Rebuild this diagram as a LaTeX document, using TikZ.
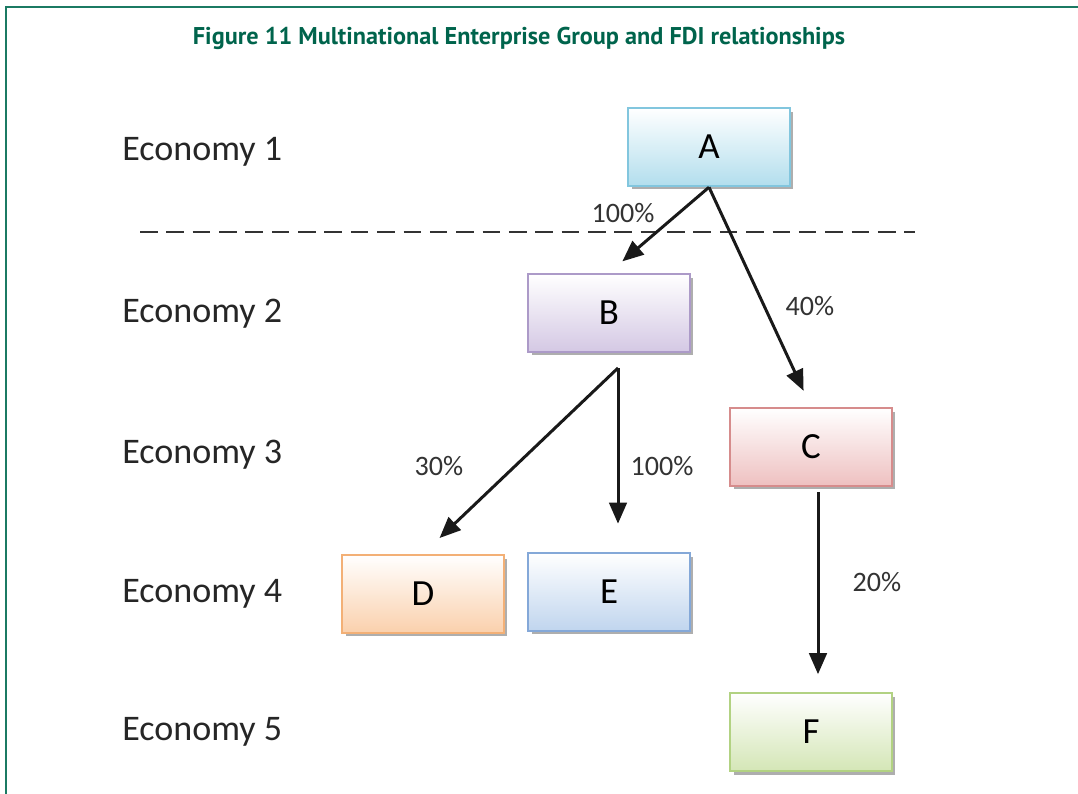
\documentclass[tikz,border=0pt]{standalone}
\usepackage{fontspec}
\setmainfont{Carlito}
\newfontfamily\titlefont{PT Sans}
\usetikzlibrary{arrows.meta,shadows}

\definecolor{framegreen}{RGB}{27,122,99}
\definecolor{titlegreen}{RGB}{0,100,76}
\definecolor{lineA}{RGB}{130,198,222}
\definecolor{fillA}{RGB}{178,222,237}
\definecolor{lineB}{RGB}{172,154,200}
\definecolor{fillB}{RGB}{212,200,228}
\definecolor{lineC}{RGB}{214,140,140}
\definecolor{fillC}{RGB}{238,192,192}
\definecolor{lineD}{RGB}{243,176,118}
\definecolor{fillD}{RGB}{250,208,172}
\definecolor{lineE}{RGB}{132,168,216}
\definecolor{fillE}{RGB}{192,213,238}
\definecolor{lineF}{RGB}{178,210,130}
\definecolor{fillF}{RGB}{212,230,182}

\tikzset{
  entity/.style={draw=line#1, line width=1.4pt, top color=white, bottom color=fill#1,
    minimum width=3.24cm, minimum height=1.56cm, inner sep=0pt,
    font=\fontsize{21}{25}\selectfont,
    drop shadow={shadow xshift=0.07cm, shadow yshift=-0.07cm, fill=black!45, opacity=.7}},
  economy/.style={anchor=west, inner sep=0pt, font=\fontsize{20.5}{24}\selectfont, text=black!85},
  share/.style={inner sep=0pt, font=\fontsize{16}{19}\selectfont, text=black!80},
  link/.style={line width=1.7pt, black!90, -{Triangle[length=12pt,width=10pt]}},
  border/.style={framegreen, line width=1.2pt}
}

\begin{document}
\begin{tikzpicture}[x=0.02cm,y=-0.02cm]
\useasboundingbox (0,0) rectangle (1078,794);
\draw[border] (6,794) -- (6,7) -- (1078,7);
\node[font=\titlefont\bfseries\fontsize{13.8}{16}\selectfont, text=titlegreen] (title) at (519,38)
  {Figure 11 Multinational Enterprise Group and FDI relationships};

\node[economy] (eco1) at (122,152) {Economy 1};
\node[economy] (eco2) at (122,314) {Economy 2};
\node[economy] (eco3) at (122,455) {Economy 3};
\node[economy] (eco4) at (122,594) {Economy 4};
\node[economy] (eco5) at (122,732) {Economy 5};

\coordinate (sepL) at (140,232);
\coordinate (sepR) at (915,232);
\draw[black!80, line width=1.4pt, dash pattern=on 10pt off 5pt] (sepL) -- (sepR);

\node[entity=A] (A) at (709,147) {A};
\node[entity=B] (B) at (609,313) {B};
\node[entity=C] (C) at (811,447) {C};
\node[entity=D] (D) at (423,594) {D};
\node[entity=E] (E) at (609,592) {E};
\node[entity=F] (F) at (811,732) {F};

\coordinate (Bout) at (618,368);
\coordinate (Cout) at (818,492);

\draw[link, shorten >=10] (A.south) -- (B.north);
\draw[link, shorten >=10] (A.south) -- (C.north);
\draw[link, shorten >=13] (Bout) -- (D.north);
\draw[link, shorten >=16] (Bout) -- (Bout |- E.north);
\draw[link, shorten >=10] (Cout) -- (Cout |- F.north);

\node[share] (pAB) at (623,213) {100\%};
\node[share] (pAC) at (810,306) {40\%};
\node[share] (pBD) at (439,466) {30\%};
\node[share] (pBE) at (662,466) {100\%};
\node[share] (pCF) at (877,582) {20\%};
\end{tikzpicture}
\end{document}
